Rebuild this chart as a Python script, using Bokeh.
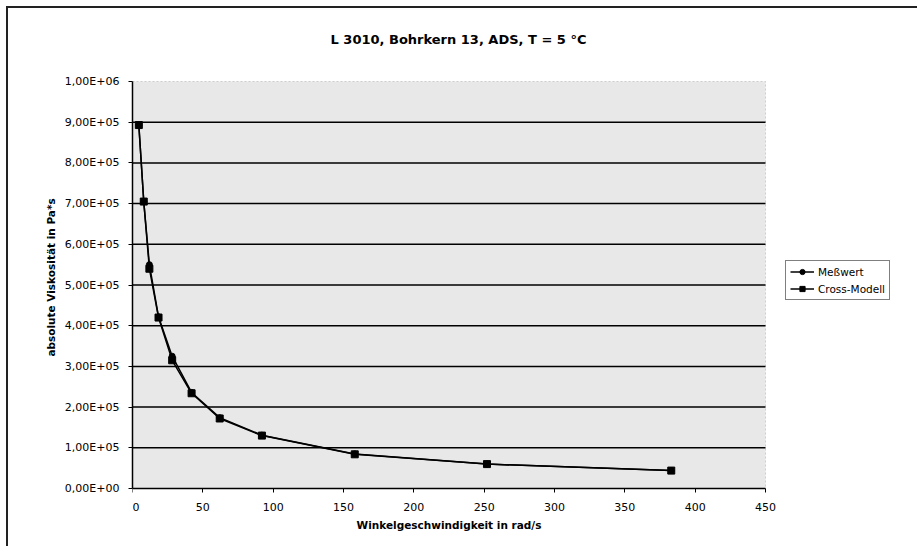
from bokeh.plotting import figure
from bokeh.models import (Range1d, FixedTicker, Legend, LegendItem, BoxAnnotation, Label)
from bokeh.embed import file_html
from bokeh.resources import INLINE

# Angular frequency (rad/s) and absolute viscosity (Pa*s)
omega = [4.5, 8.0, 12.0, 18.5, 28.2, 42.0, 62.0, 92.0, 158.0, 252.0, 383.0]
eta_messwert = [8.93e5, 7.05e5, 5.50e5, 4.22e5, 3.25e5, 2.36e5, 1.74e5, 1.31e5, 0.85e5, 0.60e5, 0.44e5]
eta_cross = [8.93e5, 7.05e5, 5.40e5, 4.20e5, 3.15e5, 2.34e5, 1.72e5, 1.30e5, 0.84e5, 0.60e5, 0.44e5]

x_ticks = [0, 50, 100, 150, 200, 250, 300, 350, 400, 450]
y_ticks = [0, 1e5, 2e5, 3e5, 4e5, 5e5, 6e5, 7e5, 8e5, 9e5, 1e6]
y_tick_labels = ["0,00E+00", "1,00E+05", "2,00E+05", "3,00E+05", "4,00E+05",
                 "5,00E+05", "6,00E+05", "7,00E+05", "8,00E+05", "9,00E+05", "1,00E+06"]

title_text = "L 3010, Bohrkern 13, ADS, T = 5 °C"
x_label = "Winkelgeschwindigkeit in rad/s"
y_label = "absolute Viskosität in Pa*s"

FONT = "DejaVu Sans"

# pixel layout: the plot area is 633 x 407 px; the drawing region around it
# also holds the title strip, the legend strip and the x-axis labels
X_MAX, Y_MAX = x_ticks[-1], y_ticks[-1]
AREA_W, AREA_H = 633, 407
REGION_W = 785          # plot area plus legend strip
ABOVE, BELOW = 73, 58   # strips above and below the plot area
px_x = X_MAX / AREA_W
px_y = Y_MAX / AREA_H

p = figure(frame_width=REGION_W, frame_height=ABOVE + AREA_H + BELOW,
           output_backend="svg", toolbar_location=None,
           x_range=Range1d(0, REGION_W * px_x),
           y_range=Range1d(-BELOW * px_y, (AREA_H + ABOVE) * px_y),
           min_border_left=124, min_border_right=0,
           min_border_top=0, min_border_bottom=0)
p.styles = {"border-left": "2px solid #222222", "border-top": "2px solid #222222",
            "margin-left": "6px", "margin-top": "6px"}

p.background_fill_color = "white"
p.border_fill_color = "white"
p.outline_line_color = None
p.grid.visible = False

# plot area: light grey fill with dotted edge
p.add_layout(BoxAnnotation(left=0, right=X_MAX, bottom=0, top=Y_MAX,
                           fill_color="#e8e8e8", fill_alpha=1,
                           line_color="#777777", line_dash="2 2", line_width=1,
                           level="underlay"))

# horizontal grid lines across the plot area
grid_y = y_ticks[1:-1]
p.segment(x0=[0] * len(grid_y), x1=[X_MAX] * len(grid_y), y0=grid_y, y1=grid_y,
          line_color="black", line_width=1.5)

# title and x-axis caption
p.add_layout(Label(x=(458 - 132) * px_x, y=(AREA_H + 42) * px_y, text=title_text,
                   text_align="center", text_baseline="middle",
                   text_font=FONT, text_font_size="13px", text_font_style="bold",
                   text_color="black"))
p.add_layout(Label(x=X_MAX / 2, y=-36 * px_y, text=x_label,
                   text_align="center", text_baseline="middle",
                   text_font=FONT, text_font_size="10.5px", text_font_style="bold",
                   text_color="black"))

# axes
for ax in (p.xaxis[0], p.yaxis[0]):
    ax.axis_line_color = "black"
    ax.axis_line_width = 1.5
    ax.major_tick_line_color = "black"
    ax.major_tick_line_width = 1
    ax.major_tick_out = 4
    ax.major_tick_in = 0
    ax.minor_tick_line_color = None
    ax.major_label_text_font = FONT
    ax.major_label_text_font_size = "11px"
    ax.major_label_text_color = "black"
    ax.axis_label_text_font = FONT
    ax.axis_label_text_font_size = "10.5px"
    ax.axis_label_text_font_style = "bold"
    ax.axis_label_text_color = "black"

p.xaxis.ticker = FixedTicker(ticks=x_ticks)
p.xaxis.bounds = (0, X_MAX)
p.xaxis.fixed_location = 0
p.xaxis.major_label_standoff = 8
# keep the "0" label clear of the left edge of the drawing region
p.xaxis.major_label_overrides = {0: "\u20070"}

p.yaxis.ticker = FixedTicker(ticks=y_ticks)
p.yaxis.bounds = (0, Y_MAX)
p.yaxis.major_label_overrides = {t: s for t, s in zip(y_ticks, y_tick_labels)}
p.yaxis.axis_label = y_label
p.yaxis.major_label_standoff = 9
p.yaxis.axis_label_standoff = 5

# series
l1 = p.line(omega, eta_messwert, line_color="black", line_width=1.5)
c1 = p.scatter(omega, eta_messwert, marker="circle", size=6, fill_color="black", line_color="black")
l2 = p.line(omega, eta_cross, line_color="black", line_width=1.5)
s2 = p.scatter(omega, eta_cross, marker="square", size=7, fill_color="black", line_color="black")

legend = Legend(items=[LegendItem(label="Meßwert", renderers=[l1, c1]),
                       LegendItem(label="Cross-Modell", renderers=[l2, s2])],
                location=(653, 188 + BELOW))
legend.label_text_font = FONT
legend.label_text_font_size = "10.5px"
legend.label_text_color = "black"
legend.label_height = 13
legend.glyph_height = 13
legend.glyph_width = 24
legend.label_standoff = 4
legend.spacing = 4
legend.padding = 4
legend.margin = 0
legend.border_line_color = "black"
legend.border_line_width = 1
legend.background_fill_color = "white"
p.add_layout(legend, "center")

open("out.html", "w").write(file_html(p, INLINE))
